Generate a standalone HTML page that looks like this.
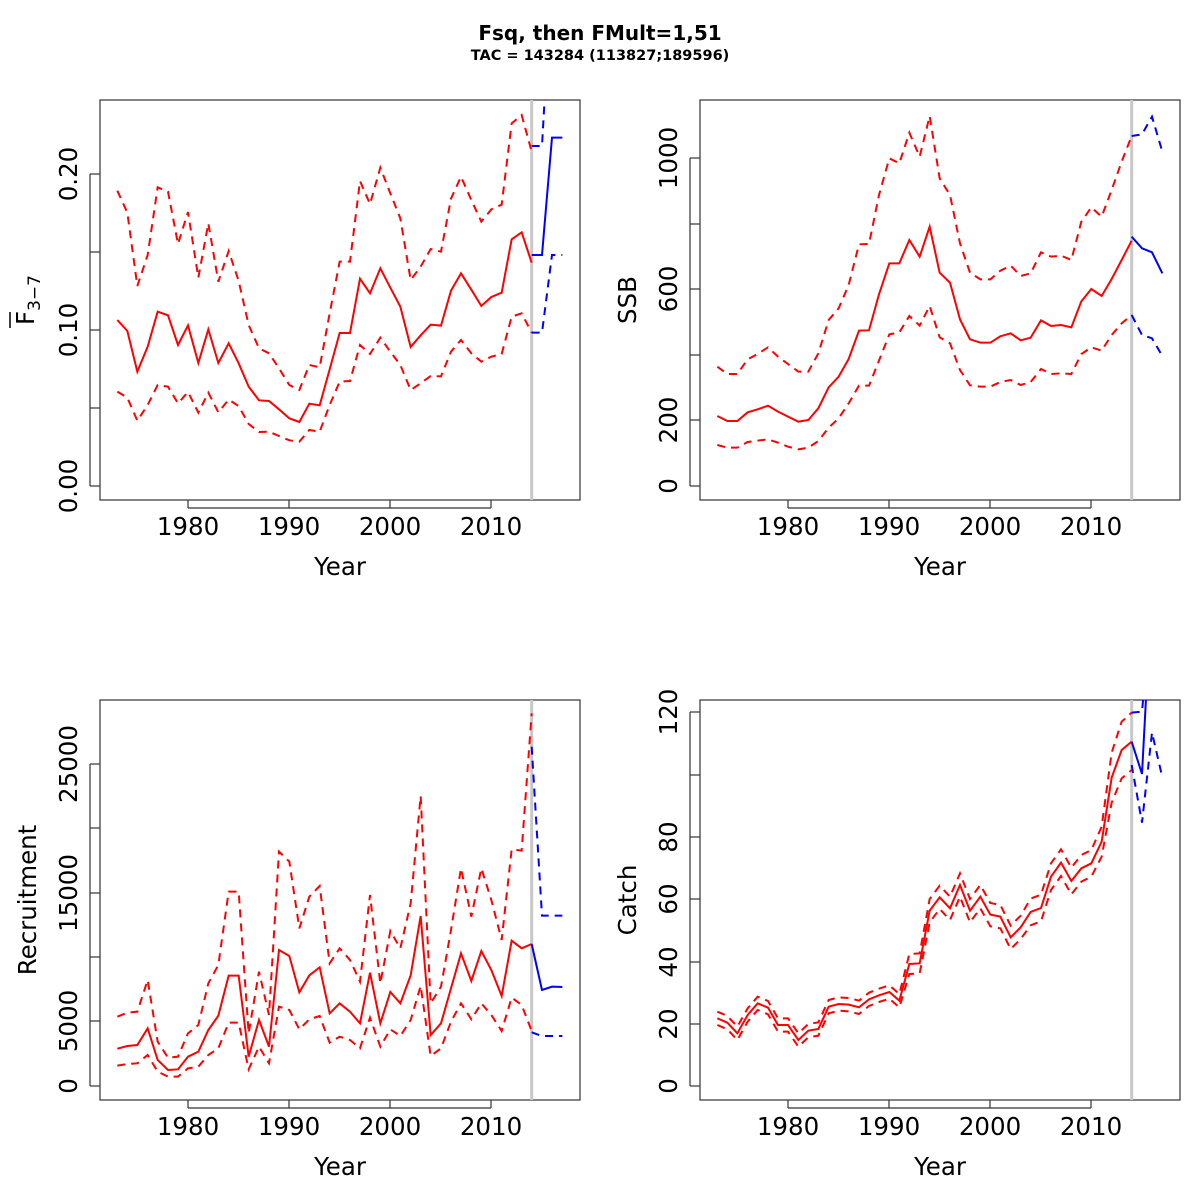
<!DOCTYPE html>
<html><head><meta charset="utf-8"><style>
html,body{margin:0;padding:0;background:#fff}
svg{display:block}
text{font-family:"DejaVu Sans","Liberation Sans",sans-serif;fill:#000}
.ax{stroke:#333;stroke-width:1.2;fill:none}
.r{stroke:#f00;fill:none;stroke-width:2;vector-effect:non-scaling-stroke}
.b{stroke:#00f;fill:none;stroke-width:2;vector-effect:non-scaling-stroke}
.d{stroke-dasharray:8 6}
.g{stroke:#c8c8c8;stroke-width:3}
.tl{font-size:24.5px}
</style></head><body>
<svg width="1200" height="1200" viewBox="0 0 1200 1200" xmlns="http://www.w3.org/2000/svg">
<defs>
<clipPath id="c1"><rect x="0" y="0" width="1440" height="1200"/></clipPath>
<clipPath id="c4"><rect x="0" y="30" width="1440" height="1200"/></clipPath>
</defs>
<text x="600" y="40" text-anchor="middle" font-size="20" font-weight="bold">Fsq, then FMult=1,51</text>
<text x="600" y="60" text-anchor="middle" font-size="14.5" font-weight="bold">TAC = 143284 (113827;189596)</text>

<!-- Panel 1 -->
<rect x="100" y="100" width="480" height="400" class="ax"/>
<line x1="531.7" y1="100" x2="531.7" y2="500" class="g"/>
<g transform="translate(100,100) scale(0.33333)" clip-path="url(#c1)">
<polyline class="r" points="52,660 82,693 112,815 143,740 173,635 204,646 234,735 264,676 295,789 325,688 355,789 386,730 416,790 446,860 477,901 507,903 537,928 568,955 598,966 628,911 659,916 689,808 719,699 750,699 780,536 810,580 841,505 871,563 901,620 932,741 962,706 992,674 1023,677 1053,572 1083,520 1114,569 1144,618 1174,591 1205,578 1235,418 1265,397 1295,488"/>
<polyline class="b" points="1295,465 1326,465 1356,113 1387,113"/>
<polyline class="r d" points="52,272 82,338 112,558 143,465 173,262 204,275 234,432 264,336 295,533 325,370 355,545 386,453 416,543 446,675 477,745 507,760 537,805 568,855 598,870 628,795 659,802 689,640 719,485 750,485 780,243 810,312 841,203 871,280 901,355 932,540 962,500 992,447 1023,455 1053,296 1083,230 1114,300 1144,365 1174,328 1205,314 1235,70 1265,45 1295,155"/>
<polyline class="b d" points="1295,138 1326,138 1356,-400"/>
<polyline class="r d" points="52,875 82,893 112,962 143,915 173,855 204,860 234,910 264,876 295,938 325,878 355,937 386,899 416,918 446,972 477,996 507,995 537,1008 568,1021 598,1025 628,990 659,995 689,915 719,845 750,843 780,735 810,762 841,713 871,755 901,795 932,870 962,850 992,828 1023,829 1053,755 1083,720 1114,760 1144,785 1174,770 1205,762 1235,650 1265,640 1295,698"/>
<polyline class="b d" points="1295,698 1326,698 1356,465 1387,465"/>
</g>
<g class="ax"><line x1="90" y1="174" x2="90" y2="486"/>
<line x1="90" y1="174" x2="100" y2="174"/><line x1="90" y1="252" x2="100" y2="252"/><line x1="90" y1="330" x2="100" y2="330"/><line x1="90" y1="408" x2="100" y2="408"/><line x1="90" y1="486" x2="100" y2="486"/>
<line x1="188" y1="500" x2="188" y2="508"/><line x1="289" y1="500" x2="289" y2="508"/><line x1="390" y1="500" x2="390" y2="508"/><line x1="491" y1="500" x2="491" y2="508"/><line x1="188" y1="508" x2="491" y2="508"/></g>
<g class="tl" text-anchor="middle">
<text transform="translate(77,174) rotate(-90)">0.20</text>
<text transform="translate(77,330) rotate(-90)">0.10</text>
<text transform="translate(77,486) rotate(-90)">0.00</text>
<text x="188" y="535">1980</text><text x="289" y="535">1990</text><text x="390" y="535">2000</text><text x="491" y="535">2010</text>
<text x="340" y="575">Year</text>
<text transform="translate(34,300) rotate(-90)">F<tspan font-size="17" dy="6">3−7</tspan></text>
</g>
<line x1="10" y1="312" x2="10" y2="328" stroke="#000" stroke-width="1.5"/>

<!-- Panel 2 -->
<rect x="700" y="100" width="480" height="400" class="ax"/>
<line x1="1131.7" y1="100" x2="1131.7" y2="500" class="g"/>
<g transform="translate(700,100) scale(0.33333)" clip-path="url(#c1)">
<polyline class="r" points="52,948 82,963 112,963 143,937 173,928 204,917 234,935 264,950 295,965 325,960 355,925 386,862 416,830 446,777 477,692 507,691 537,583 568,490 598,490 628,420 659,470 689,380 719,518 750,548 780,658 810,718 841,728 871,728 901,709 932,700 962,721 992,713 1023,661 1053,678 1083,675 1114,682 1144,604 1174,567 1205,588 1235,537 1265,480 1295,422"/>
<polyline class="b" points="1295,410 1326,445 1356,457 1387,520"/>
<polyline class="r d" points="52,800 82,822 112,822 143,778 173,762 204,742 234,770 264,792 295,815 325,815 355,760 386,660 416,625 446,555 477,433 507,432 537,285 568,175 598,190 628,98 659,170 689,48 719,235 750,285 780,430 810,518 841,538 871,538 901,512 932,497 962,528 992,520 1023,457 1053,470 1083,467 1114,480 1144,365 1174,322 1205,350 1235,270 1265,185 1295,108"/>
<polyline class="b d" points="1295,108 1326,103 1356,50 1387,155"/>
<polyline class="r d" points="52,1035 82,1043 112,1043 143,1026 173,1022 204,1018 234,1028 264,1040 295,1048 325,1043 355,1023 386,983 416,955 446,910 477,857 507,857 537,782 568,703 598,697 628,648 659,677 689,618 719,712 750,730 780,810 810,856 841,860 871,860 901,846 932,840 962,855 992,846 1023,807 1053,822 1083,820 1114,822 1144,762 1174,742 1205,752 1235,705 1265,670 1295,645"/>
<polyline class="b d" points="1295,645 1326,705 1356,715 1387,768"/>
</g>
<g class="ax"><line x1="690" y1="158" x2="690" y2="486"/>
<line x1="690" y1="158" x2="700" y2="158"/><line x1="690" y1="224" x2="700" y2="224"/><line x1="690" y1="289" x2="700" y2="289"/><line x1="690" y1="355" x2="700" y2="355"/><line x1="690" y1="420" x2="700" y2="420"/><line x1="690" y1="486" x2="700" y2="486"/>
<line x1="788" y1="500" x2="788" y2="508"/><line x1="889" y1="500" x2="889" y2="508"/><line x1="990" y1="500" x2="990" y2="508"/><line x1="1091" y1="500" x2="1091" y2="508"/><line x1="788" y1="508" x2="1091" y2="508"/></g>
<g class="tl" text-anchor="middle">
<text transform="translate(677,158) rotate(-90)">1000</text>
<text transform="translate(677,289) rotate(-90)">600</text>
<text transform="translate(677,420) rotate(-90)">200</text>
<text transform="translate(677,486) rotate(-90)">0</text>
<text x="788" y="535">1980</text><text x="889" y="535">1990</text><text x="990" y="535">2000</text><text x="1091" y="535">2010</text>
<text x="940" y="575">Year</text>
<text transform="translate(636,300) rotate(-90)">SSB</text>
</g>

<!-- Panel 3 -->
<rect x="100" y="700" width="480" height="400" class="ax"/>
<line x1="531.7" y1="700" x2="531.7" y2="1100" class="g"/>
<g transform="translate(100,700) scale(0.33333)" clip-path="url(#c1)">
<polyline class="r" points="52,1046 82,1038 112,1035 143,985 173,1080 204,1110 234,1108 264,1070 295,1055 325,990 355,947 386,827 416,827 446,1070 477,960 507,1040 537,750 568,768 598,877 628,826 659,802 689,940 719,910 750,935 780,970 810,818 841,970 871,876 901,910 932,826 962,648 992,1005 1023,970 1053,865 1083,760 1114,843 1144,753 1174,810 1205,888 1235,722 1265,745 1295,732"/>
<polyline class="b" points="1295,732 1326,870 1356,860 1387,861"/>
<polyline class="r d" points="52,950 82,938 112,935 143,840 173,1025 204,1073 234,1070 264,1000 295,975 325,850 355,795 386,575 416,575 446,1000 477,815 507,945 537,455 568,485 598,685 628,590 659,558 689,790 719,745 750,780 780,845 810,585 841,850 871,693 901,745 932,610 962,288 992,910 1023,860 1053,690 1083,505 1114,650 1144,505 1174,600 1205,720 1235,448 1265,452 1295,40"/>
<polyline class="b d" points="1295,140 1326,647 1356,647 1387,647"/>
<polyline class="r d" points="52,1097 82,1092 112,1090 143,1065 173,1115 204,1130 234,1130 264,1105 295,1100 325,1065 355,1045 386,968 416,968 446,1108 477,1040 507,1090 537,920 568,930 598,988 628,958 659,948 689,1028 719,1010 750,1020 780,1045 810,953 841,1040 871,988 901,1008 932,960 962,858 992,1068 1023,1045 1053,965 1083,910 1114,958 1144,910 1174,945 1205,993 1235,893 1265,915 1295,993"/>
<polyline class="b d" points="1295,997 1326,1008 1356,1008 1387,1008"/>
</g>
<g class="ax"><line x1="90" y1="764" x2="90" y2="1086"/>
<line x1="90" y1="764" x2="100" y2="764"/><line x1="90" y1="828" x2="100" y2="828"/><line x1="90" y1="893" x2="100" y2="893"/><line x1="90" y1="957" x2="100" y2="957"/><line x1="90" y1="1021" x2="100" y2="1021"/><line x1="90" y1="1086" x2="100" y2="1086"/>
<line x1="188" y1="1100" x2="188" y2="1108"/><line x1="289" y1="1100" x2="289" y2="1108"/><line x1="390" y1="1100" x2="390" y2="1108"/><line x1="491" y1="1100" x2="491" y2="1108"/><line x1="188" y1="1108" x2="491" y2="1108"/></g>
<g class="tl" text-anchor="middle">
<text transform="translate(77,764) rotate(-90)">25000</text>
<text transform="translate(77,893) rotate(-90)">15000</text>
<text transform="translate(77,1021) rotate(-90)">5000</text>
<text transform="translate(77,1086) rotate(-90)">0</text>
<text x="188" y="1135">1980</text><text x="289" y="1135">1990</text><text x="390" y="1135">2000</text><text x="491" y="1135">2010</text>
<text x="340" y="1175">Year</text>
<text transform="translate(36,900) rotate(-90)">Recruitment</text>
</g>

<!-- Panel 4 -->
<rect x="700" y="700" width="480" height="400" class="ax"/>
<line x1="1131.7" y1="700" x2="1131.7" y2="1100" class="g"/>
<g transform="translate(700,690) scale(0.33333)" clip-path="url(#c4)">
<polyline class="r" points="52,985 82,998 112,1030 143,975 173,940 204,953 234,1005 264,1005 295,1050 325,1022 355,1017 386,950 416,942 446,944 477,952 507,928 537,916 568,906 598,932 628,822 659,820 689,662 719,622 750,655 780,585 810,662 841,620 871,674 901,680 932,742 962,712 992,666 1023,654 1053,560 1083,518 1114,573 1144,535 1174,520 1205,455 1235,263 1265,180 1295,155"/>
<polyline class="b" points="1295,155 1326,252 1350,-200"/>
<polyline class="r d" points="52,965 82,978 112,1010 143,955 173,920 204,933 234,985 264,985 295,1030 325,1002 355,997 386,930 416,922 446,924 477,932 507,908 537,896 568,886 598,912 628,792 659,790 689,627 719,587 750,620 780,550 810,627 841,585 871,639 901,645 932,707 962,677 992,626 1023,614 1053,520 1083,478 1114,533 1144,495 1174,480 1205,410 1235,188 1265,95 1295,68"/>
<polyline class="r d" points="52,1005 82,1018 112,1050 143,995 173,960 204,973 234,1025 264,1025 295,1070 325,1042 355,1037 386,970 416,962 446,964 477,972 507,948 537,936 568,926 598,952 628,852 659,850 689,697 719,657 750,690 780,620 810,697 841,655 871,709 901,715 932,777 962,747 992,706 1023,694 1053,600 1083,558 1114,613 1144,575 1174,560 1205,500 1235,338 1265,265 1295,240"/>
<polyline class="b d" points="1295,68 1326,65 1350,-200"/>
<polyline class="b d" points="1295,225 1326,398 1356,128 1387,262"/>
</g>
<g class="ax"><line x1="690" y1="712" x2="690" y2="1086"/>
<line x1="690" y1="712" x2="700" y2="712"/><line x1="690" y1="775" x2="700" y2="775"/><line x1="690" y1="837" x2="700" y2="837"/><line x1="690" y1="899" x2="700" y2="899"/><line x1="690" y1="962" x2="700" y2="962"/><line x1="690" y1="1024" x2="700" y2="1024"/><line x1="690" y1="1086" x2="700" y2="1086"/>
<line x1="788" y1="1100" x2="788" y2="1108"/><line x1="889" y1="1100" x2="889" y2="1108"/><line x1="990" y1="1100" x2="990" y2="1108"/><line x1="1091" y1="1100" x2="1091" y2="1108"/><line x1="788" y1="1108" x2="1091" y2="1108"/></g>
<g class="tl" text-anchor="middle">
<text transform="translate(677,712) rotate(-90)">120</text>
<text transform="translate(677,837) rotate(-90)">80</text>
<text transform="translate(677,899) rotate(-90)">60</text>
<text transform="translate(677,962) rotate(-90)">40</text>
<text transform="translate(677,1024) rotate(-90)">20</text>
<text transform="translate(677,1086) rotate(-90)">0</text>
<text x="788" y="1135">1980</text><text x="889" y="1135">1990</text><text x="990" y="1135">2000</text><text x="1091" y="1135">2010</text>
<text x="940" y="1175">Year</text>
<text transform="translate(636,900) rotate(-90)">Catch</text>
</g>
</svg>
</body></html>
